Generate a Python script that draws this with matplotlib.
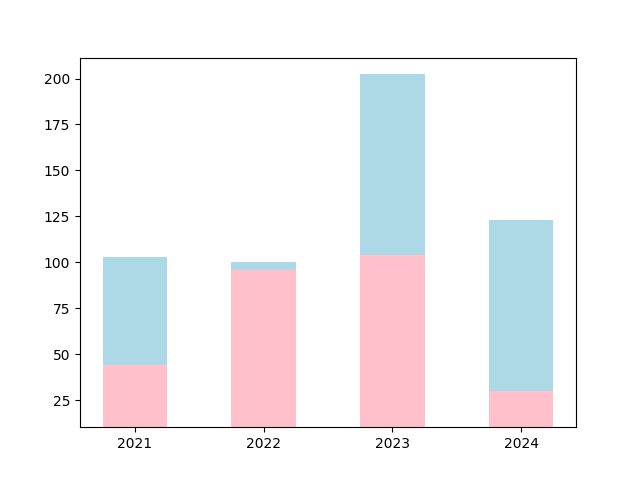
import matplotlib
matplotlib.use("Agg")
import matplotlib.pyplot as plt

# Values
years = ["2021", "2022", "2023", "2024"]
bottom_part = [44.1, 96.0, 104.1, 29.9]
top_part = [59.0, 4.2, 98.2, 93.2]

fig, ax = plt.subplots(figsize=(6.4, 4.8), dpi=100)

ax.bar(years, bottom_part, width=0.5, color="pink")
ax.bar(years, top_part, width=0.5, bottom=bottom_part, color="lightblue")

ax.set_ylim(10.3, 211.4)

fig.savefig("out.png")
